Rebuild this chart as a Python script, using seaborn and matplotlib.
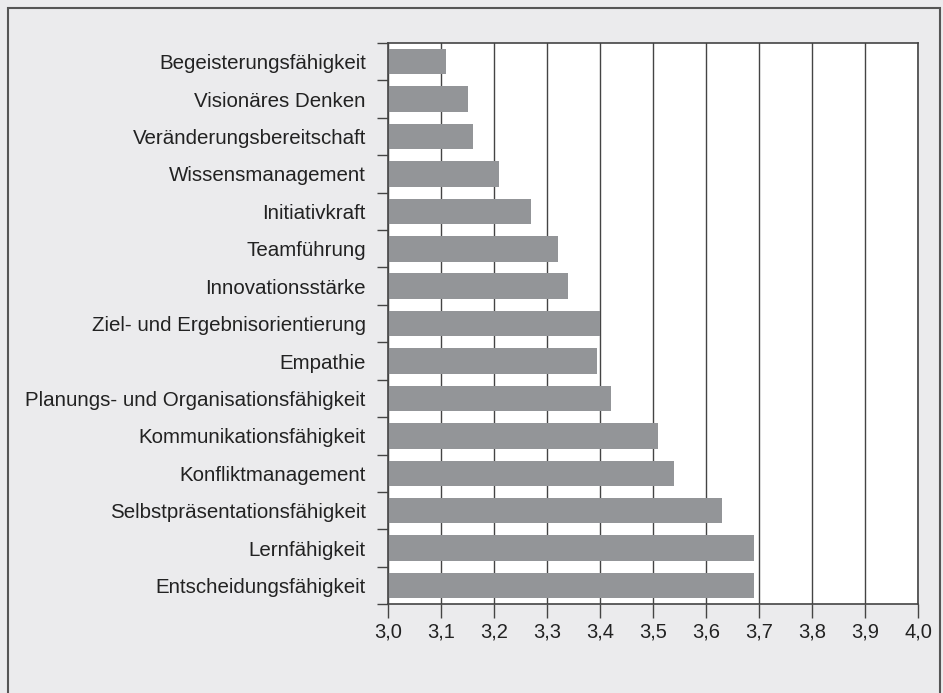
import matplotlib
matplotlib.use('Agg')
import matplotlib.pyplot as plt
import seaborn as sns
import pandas as pd
from matplotlib.patches import Rectangle

# Kompetenzen und Mittelwerte
kompetenzen = [
    'Begeisterungsfähigkeit',
    'Visionäres Denken',
    'Veränderungsbereitschaft',
    'Wissensmanagement',
    'Initiativkraft',
    'Teamführung',
    'Innovationsstärke',
    'Ziel- und Ergebnisorientierung',
    'Empathie',
    'Planungs- und Organisationsfähigkeit',
    'Kommunikationsfähigkeit',
    'Konfliktmanagement',
    'Selbstpräsentationsfähigkeit',
    'Lernfähigkeit',
    'Entscheidungsfähigkeit',
]
werte = [3.11, 3.15, 3.16, 3.21, 3.27, 3.32, 3.34, 3.40, 3.395, 3.42,
         3.51, 3.54, 3.63, 3.69, 3.69]
x_ticks = [3.0, 3.1, 3.2, 3.3, 3.4, 3.5, 3.6, 3.7, 3.8, 3.9, 4.0]
x_labels = ['3,0', '3,1', '3,2', '3,3', '3,4', '3,5', '3,6', '3,7', '3,8', '3,9', '4,0']

df = pd.DataFrame({'kompetenz': kompetenzen, 'wert': werte})

plt.rcParams['font.family'] = ['Liberation Sans', 'DejaVu Sans']

bg = '#ebebed'
fig = plt.figure(figsize=(9.43, 6.93), dpi=100, facecolor=bg)
ax = fig.add_axes([0.4115, 0.128, 0.562, 0.81])
ax.set_facecolor('white')

# Gitterlinien hinter den Balken
for t in x_ticks:
    ax.axvline(t, color='#444444', lw=1.0, zorder=0)

sns.barplot(data=df, x='wert', y='kompetenz', orient='h', color='#939598',
            saturation=1, width=0.68, ax=ax, zorder=2)

ax.set_xlim(3.0, 4.0)
ax.set_ylim(14.5, -0.5)
ax.set_xticks(x_ticks)
ax.set_xticklabels(x_labels, fontsize=14.5, color='#222222')
ax.tick_params(axis='x', length=10, width=1, color='#444444', pad=3)
ax.tick_params(axis='y', length=0, labelsize=14.8, labelcolor='#222222', pad=16)
ax.set_yticks(range(len(kompetenzen)), minor=False)
ax.set_yticks([i - 0.5 for i in range(len(kompetenzen) + 1)], minor=True)
ax.tick_params(axis='y', which='minor', length=8, width=1, color='#444444')
ax.set_xlabel('')
ax.set_ylabel('')
for s in ax.spines.values():
    s.set_color('#444444')
    s.set_linewidth(1.2)

# Rahmen um die Grafik
fig.patches.append(Rectangle((0.0085, -0.05), 0.988, 1.0385, transform=fig.transFigure,
                             fill=False, edgecolor='#555555', lw=1.5))

fig.savefig('out.png', dpi=100, facecolor=bg)
